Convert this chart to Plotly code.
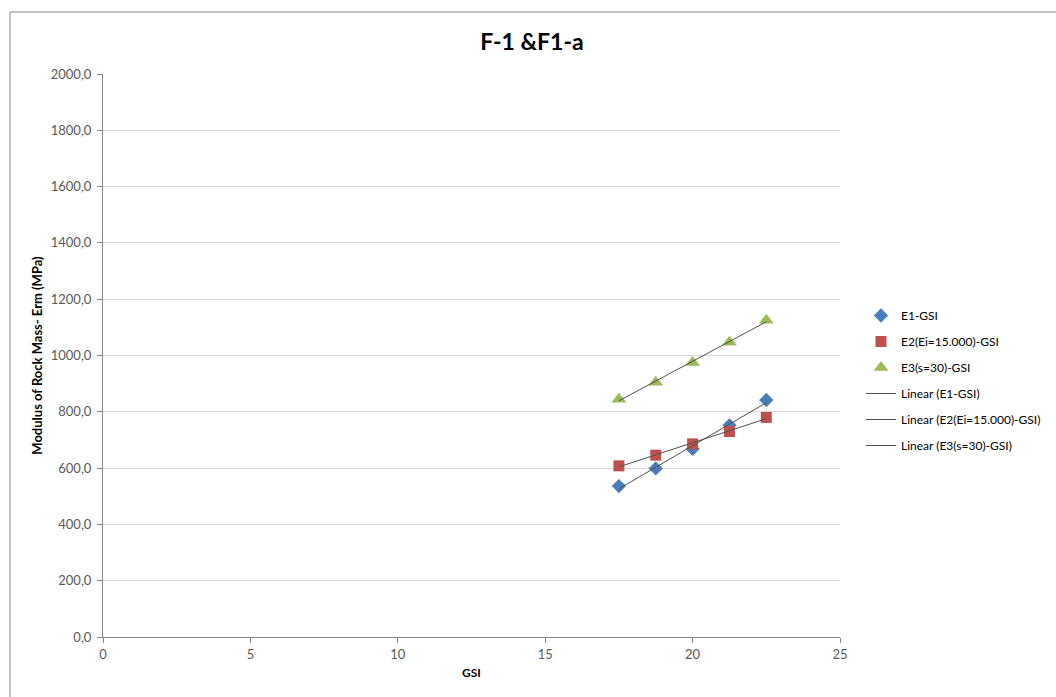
import numpy as np
import plotly.graph_objects as go

gsi = [17.5, 18.75, 20.0, 21.25, 22.5]
e1 = [536, 599, 668, 752, 842]
e2 = [608, 646, 686, 730, 780]
e3 = [845, 905, 975, 1047, 1125]

names = ["E1-GSI", "E2(Ei=15.000)-GSI", "E3(s=30)-GSI"]
colors = ["#4A7EBB", "#C0504D", "#9BBB59"]
symbols = ["diamond", "square", "triangle-up"]
sizes = [11, 11, 13]
series = [e1, e2, e3]

x_ticks = [0, 5, 10, 15, 20, 25]
y_ticks = list(range(0, 2001, 200))

FONT = "Lato"
fig = go.Figure()

for i, (nm, ys) in enumerate(zip(names, series)):
    fig.add_trace(go.Scatter(
        x=gsi, y=ys, mode="markers", name=nm, legendgroup=f"g{i}",
        marker=dict(symbol=symbols[i], size=sizes[i], color=colors[i]),
    ))

for i, (nm, ys) in enumerate(zip(names, series)):
    k, b = np.polyfit(gsi, ys, 1)
    xs = np.array([gsi[0], gsi[-1]])
    fig.add_trace(go.Scatter(
        x=xs, y=k * xs + b, mode="lines", name=f"Linear ({nm})",
        legendgroup=f"t{i}",
        line=dict(color="#505050", width=1),
    ))

L, R, T, B = 103, 216, 74, 60
W, H = 1056, 697
pw, ph = W - L - R, H - T - B

fig.update_layout(
    width=W, height=H,
    margin=dict(l=L, r=R, t=T, b=B, autoexpand=False),
    paper_bgcolor="white", plot_bgcolor="white",
    separators=",.",
    font=dict(family=FONT, size=13, color="#595959"),
    title=dict(text="<b>F-1 &F1-a</b>", x=(532) / W, xanchor="center",
               y=1 - 42 / H, yanchor="middle",
               font=dict(family=FONT, size=23, color="#000000")),
    showlegend=True,
    legend=dict(x=(861 - L) / pw, y=1 - (301 - T) / ph, xanchor="left", yanchor="top",
                traceorder="grouped", tracegroupgap=7,
                font=dict(family=FONT, size=12, color="#000000"),
                bgcolor="rgba(0,0,0,0)"),
    xaxis=dict(range=[0, 25], tickvals=x_ticks, showgrid=False, zeroline=False,
               showline=True, linecolor="#868686", linewidth=1,
               ticks="outside", ticklen=5, tickcolor="#868686",
               tickfont=dict(family=FONT, size=13, color="#595959"),
               title=dict(text="<b>GSI</b>", standoff=8,
                          font=dict(family=FONT, size=12, color="#000000"))),
    yaxis=dict(range=[0, 2000], tickvals=y_ticks, tickformat=".1f",
               showgrid=True, gridcolor="#D9D9D9", gridwidth=1, zeroline=False,
               showline=True, linecolor="#868686", linewidth=1,
               ticks="outside", ticklen=5, tickcolor="#868686",
               ticklabelstandoff=3,
               tickfont=dict(family=FONT, size=13, color="#595959"),
               title=dict(text="<b>Modulus of Rock Mass- Erm (MPa)</b>", standoff=5,
                          font=dict(family=FONT, size=13, color="#000000"))),
)

# outer chart border
fig.add_shape(type="rect", xref="paper", yref="paper",
              x0=(10 - L) / pw, x1=(W + 5 - L) / pw,
              y0=(H - B - (H + 5)) / ph, y1=1 + (T - 12) / ph,
              line=dict(color="#868686", width=1), fillcolor="rgba(0,0,0,0)", layer="below")

fig.write_html("out.html")
